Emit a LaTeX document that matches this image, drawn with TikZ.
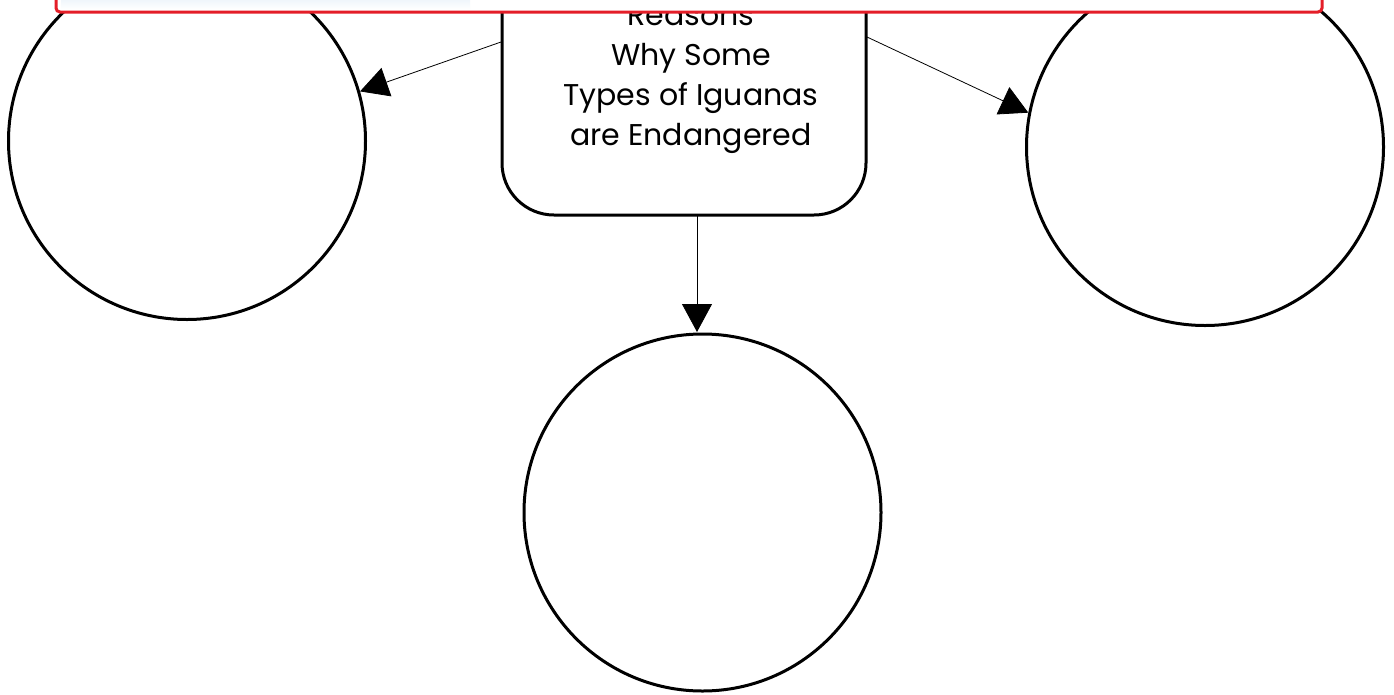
\documentclass[tikz,border=0pt]{standalone}
\usepackage{fontspec}
\setmainfont{Poppins}
\usetikzlibrary{arrows.meta}
\definecolor{barblue}{RGB}{208,228,243}
\definecolor{barred}{RGB}{228,30,40}
\tikzset{
  bubble/.style={circle, draw=black, line width=3pt, minimum size=357pt, inner sep=0pt},
  topic/.style={rectangle, rounded corners=52pt, draw=black, line width=3pt, minimum width=364pt, minimum height=300pt, inner sep=0pt},
  link/.style={draw=black, line width=0.8pt, -{Triangle[length=28pt,width=30pt]}},
  label/.style={font=\fontsize{30}{40}\selectfont, align=center, inner sep=0pt}
}
\begin{document}
\begin{tikzpicture}[x=1pt,y=-1pt]
\useasboundingbox (0,0) rectangle (1394,694);
\clip (0,0) rectangle (1394,694);
\fill[white] (0,0) rectangle (1394,694);
\node[bubble] (left) at (187,141) {};
\node[bubble] (right) at (1205,147) {};
\node[bubble] (bottom) at (702.5,512.5) {};
\node[topic] (box) at (684,65) {};
\node[label, anchor=base] (txt) at (691,145) {Reasons\\Why Some\\Types of Iguanas\\are Endangered};
\coordinate (lstart) at (501,42);
\coordinate (rstart) at (867,37);
\coordinate (bstart) at (697,215);
\coordinate (bend) at (697,332);
\draw[link] (lstart) -- (left.{atan2(-(88-141),(367-187))});
\draw[link] (rstart) -- (right.{atan2(-(115-147),(1025-1205))});
\draw[link] (bstart) -- (bend);
% window bar overlay
\node[draw=barred, line width=3pt, rounded corners=4pt, fill=white, minimum width=1266pt, minimum height=44pt, inner sep=0pt] (bar) at (689,-10) {};
\shade[left color=barblue, right color=white, shading angle=0] (61,-20) rectangle (470,9.5);
\end{tikzpicture}
\end{document}
